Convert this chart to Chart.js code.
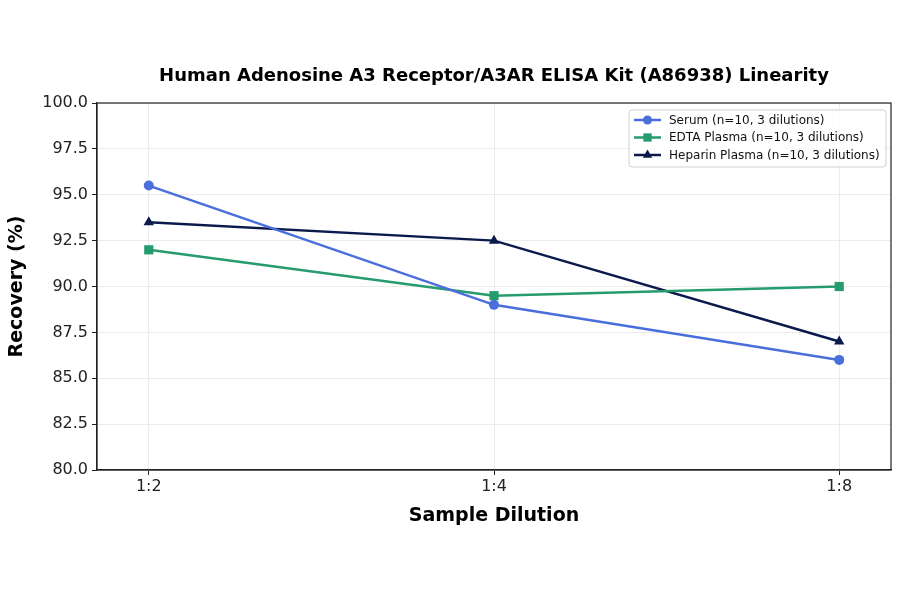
<!DOCTYPE html>
<html><head><meta charset="utf-8">
<script src="https://cdn.jsdelivr.net/npm/chart.js@4"></script>
<style>html,body{margin:0;padding:0;background:#fff}#wrap{width:900px;height:594px}</style>
</head><body><div id="wrap"><canvas id="c" width="900" height="594"></canvas></div>
<script>
const categories = ["1:2", "1:4", "1:8"];
const serum = [95.5, 89.0, 86.0];
const edta = [92.0, 89.5, 90.0];
const heparin = [93.5, 92.5, 87.0];
const seriesNames = ["Serum (n=10, 3 dilutions)", "EDTA Plasma (n=10, 3 dilutions)", "Heparin Plasma (n=10, 3 dilutions)"];
const yTicks = [80, 82.5, 85, 87.5, 90, 92.5, 95, 97.5, 100];
const titleText = "Human Adenosine A3 Receptor/A3AR ELISA Kit (A86938) Linearity";

const colors = ["#4a6fdc", "#259b6e", "#0b1a4c"];
const styles = ["circle", "rect", "triangle"];
const radii = [5, 6.5, 6];
const FONT = "'DejaVu Sans', sans-serif";

function mk(data, i) {
  return {
    label: seriesNames[i],
    data: data.map((v, k) => ({x: k, y: v})),
    borderColor: colors[i], backgroundColor: colors[i],
    borderWidth: 2.5, pointStyle: styles[i], pointRadius: radii[i],
    pointHoverRadius: radii[i], pointBorderWidth: 0, tension: 0
  };
}

const framePlugin = {
  id: 'frame',
  afterDraw(chart) {
    const ctx = chart.ctx, a = chart.chartArea;
    ctx.save();
    ctx.strokeStyle = '#222'; ctx.lineWidth = 1.2;
    ctx.strokeRect(a.left, a.top, a.right - a.left, a.bottom - a.top);
    // title
    ctx.fillStyle = '#000';
    ctx.font = "bold 18px " + FONT;
    ctx.textAlign = 'center'; ctx.textBaseline = 'middle';
    ctx.fillText(titleText, (a.left + a.right) / 2, 76);
    // legend
    const bx = 629, by = 110, bw = 257, bh = 57;
    ctx.beginPath();
    ctx.roundRect(bx, by, bw, bh, 3);
    ctx.fillStyle = 'rgba(255,255,255,0.85)'; ctx.fill();
    ctx.strokeStyle = '#d0d0d0'; ctx.lineWidth = 1; ctx.stroke();
    ctx.font = "12px " + FONT; ctx.textAlign = 'left';
    for (let i = 0; i < 3; i++) {
      const y = by + 10 + i * 17.5;
      ctx.strokeStyle = colors[i]; ctx.lineWidth = 2.5;
      ctx.beginPath(); ctx.moveTo(634, y); ctx.lineTo(661, y); ctx.stroke();
      ctx.fillStyle = colors[i];
      Chart.helpers.drawPoint(ctx, {pointStyle: styles[i], radius: radii[i] * 0.9, rotation: 0, borderWidth: 0}, 647.5, y);
      ctx.fillStyle = '#111';
      ctx.fillText(seriesNames[i], 669, y + 0.5);
    }
    ctx.restore();
  }
};

new Chart(document.getElementById('c'), {
  type: 'line',
  data: { datasets: [mk(serum, 0), mk(edta, 1), mk(heparin, 2)] },
  options: {
    responsive: false, animation: false,
    layout: { padding: { left: 0, top: 103, right: 9, bottom: 63 } },
    plugins: { legend: { display: false }, title: { display: false }, tooltip: { enabled: false } },
    scales: {
      x: {
        type: 'linear', min: -0.15, max: 2.15,
        afterBuildTicks(s) { s.ticks = categories.map((c, k) => ({value: k})); },
        afterFit(s) { s.height = 61; },
        ticks: { callback: (v) => categories[v], color: '#222', font: { family: FONT, size: 16 }, padding: 2, maxRotation: 0 },
        grid: { color: '#ebebeb', lineWidth: 1, tickColor: '#222', tickLength: 5 },
        border: { color: '#222', width: 1.2 },
        title: { display: true, text: 'Sample Dilution', color: '#000', font: { family: FONT, size: 19, weight: 'bold' }, padding: { top: 4, bottom: 4 } }
      },
      y: {
        min: 80, max: 100,
        afterBuildTicks(s) { s.ticks = yTicks.map(v => ({value: v})); },
        afterFit(s) { s.width = 97; },
        ticks: { callback: (v) => Number(v).toFixed(1), color: '#222', font: { family: FONT, size: 16 }, padding: 4 },
        grid: { color: '#ebebeb', lineWidth: 1, tickColor: '#222', tickLength: 5 },
        border: { color: '#222', width: 1.2 },
        title: { display: true, text: 'Recovery (%)', color: '#000', font: { family: FONT, size: 19, weight: 'bold' }, padding: { top: 6, bottom: 4 } }
      }
    }
  },
  plugins: [framePlugin]
});
</script></body></html>
